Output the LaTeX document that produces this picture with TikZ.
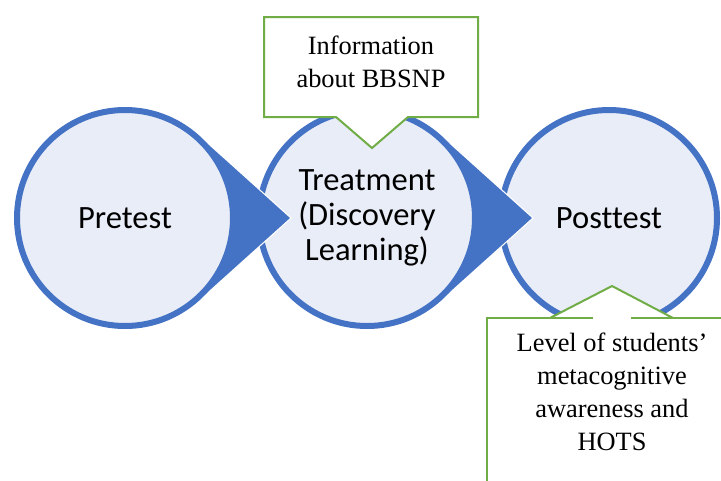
\documentclass[tikz,border=0pt]{standalone}
\usepackage{fontspec}
\usetikzlibrary{calc}
\newfontfamily\stagefont[Ligatures=NoCommon]{Carlito}
\newfontfamily\notefont{Liberation Serif}
\definecolor{stageblue}{HTML}{4472C4}
\definecolor{stagefill}{RGB}{233,237,247}
\definecolor{notegreen}{HTML}{70AD47}

\begin{document}
\begin{tikzpicture}[x=0.75pt, y=-0.75pt,
  stage/.style={circle, draw=stageblue, line width=4.5pt, fill=stagefill,
                minimum size=162pt, inner sep=0pt, align=center,
                font=\stagefont\fontsize{24.4}{26.3}\selectfont},
  pointer/.style={fill=stageblue, draw=white, line width=0.8pt},
  notebox/.style={draw=notegreen, line width=1.5pt, fill=white},
  noteline/.style={draw=notegreen, line width=1.5pt},
  notetext/.style={align=center, font=\notefont\fontsize{19.8}{24.6}\selectfont}
]
  \useasboundingbox (0,0) rectangle (721,480);
  \clip (0,0) rectangle (721,480);

  % circle centres; drawn right to left so each tip lies over the next circle
  \coordinate (c1) at (125,218);
  \coordinate (c2) at (367,218);
  \coordinate (c3) at (609,218);

  \node[stage] (post) at (c3) {Posttest};

  \path[pointer] ($(c2)+(166,0)$) -- ($(c2)+(48:111)$) -- (c2) -- ($(c2)+(-48:111)$) -- cycle;
  \node[stage] (treat) at (c2) {Treatment\\(Discovery\\Learning)};

  \path[pointer] ($(c1)+(166,0)$) -- ($(c1)+(48:111)$) -- (c1) -- ($(c1)+(-48:111)$) -- cycle;
  \node[stage] (pre) at (c1) {Pretest};

  % callout above the treatment
  \path[notebox] (264,17) -- (478,17) -- (478,117) -- (408,117) -- (372,148)
    -- (336,117) -- (264,117) -- cycle;
  \node[notetext] (info) at (371,62) {Information\\about BBSNP};

  % callout below the posttest
  \fill[white] (550,318) -- (612,286) -- (673,318) -- (740,318) -- (740,500)
    -- (487,500) -- (487,318) -- cycle;
  \path[noteline] (593,318) -- (487,318) -- (487,500);
  \path[noteline] (631,318) -- (740,318);
  \path[noteline] (550,318) -- (612,286) -- (673,318);
  \node[notetext] (level) at (612,392) {Level of students’\\metacognitive\\awareness and\\HOTS};
\end{tikzpicture}
\end{document}
